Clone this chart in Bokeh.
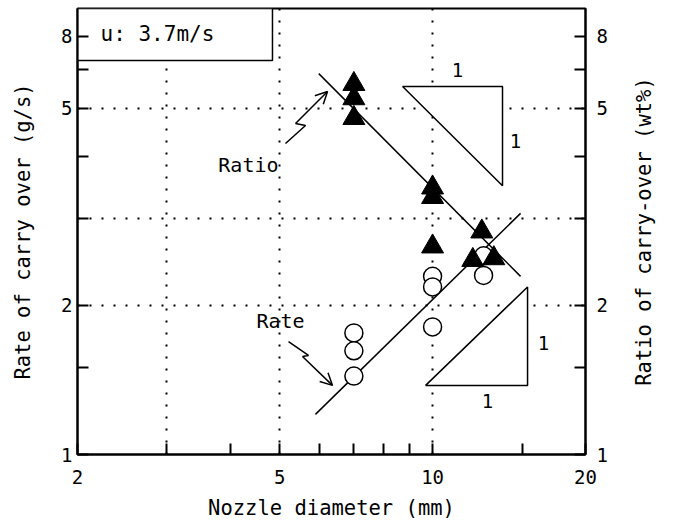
from bokeh.plotting import figure
from bokeh.layouts import row
from bokeh.models import LogAxis, FixedTicker, Arrow, OpenHead, Range1d
from bokeh.embed import file_html
from bokeh.resources import INLINE
from bokeh.core.properties import value

# ---------------- data ----------------
ratio_d = [7.0, 7.0, 7.0, 10.0, 10.0, 10.0, 12.0, 12.5, 13.2]
ratio_v = [5.60, 5.24, 4.78, 3.46, 3.31, 2.63, 2.47, 2.82, 2.49]
rate_d = [7.0, 7.0, 7.0, 10.0, 10.0, 10.0, 12.6, 12.6]
rate_v = [1.76, 1.62, 1.44, 2.29, 2.18, 1.81, 2.52, 2.30]
ratio_fit_d = [5.97, 14.9]
ratio_fit_v = [5.88, 2.29]
rate_fit_d = [5.88, 14.9]
rate_fit_v = [1.205, 3.07]

x_ticks = [2, 3, 4, 5, 6, 7, 8, 9, 10, 15, 20]
x_tick_labels = {2: "2", 5: "5", 10: "10", 20: "20"}
y_ticks = [1, 1.5, 2, 3, 4, 5, 6, 7]
y_tick_labels = {1: "1", 2: "2", 5: "5", 7: "8"}
x_grid = [3, 5, 10]
y_grid = [2, 3, 5]

# slope triangles (data coordinates)
slope_up_x = [8.73, 13.73, 13.73]
slope_up_y = [5.54, 5.54, 3.49]
slope_dn_x = [9.69, 15.38, 15.38]
slope_dn_y = [1.379, 1.379, 2.18]
slope_lbl_x = [11.2, 14.56, 12.83, 16.53]
slope_lbl_y = [5.97, 4.29, 1.285, 1.676]

# zig-zag pointers
ratio_arrow_x = [5.134, 5.622, 5.373, 6.212]
ratio_arrow_y = [4.249, 4.620, 4.664, 5.412]
rate_arrow_x = [5.205, 5.698, 5.546, 6.353]
rate_arrow_y = [1.691, 1.585, 1.577, 1.379]

X_RANGE = (2, 20)
Y_RANGE = (1, 7.96)
FONT = "DejaVu Sans Mono"

p = figure(x_axis_type="log", y_axis_type="log", x_range=X_RANGE, y_range=Y_RANGE,
           frame_width=508, frame_height=446, min_border_left=77, min_border_right=30,
           min_border_top=8, min_border_bottom=56, output_backend="svg",
           toolbar_location=None)
p.outline_line_color = "black"
p.outline_line_width = 2
p.background_fill_color = "white"

def style_axis(ax, ticks, labels, size="19px"):
    ax.ticker = FixedTicker(ticks=ticks, minor_ticks=[])
    ax.major_label_overrides = {t: labels.get(t, "") for t in ticks}
    ax.major_tick_in = 11
    ax.major_tick_out = 0
    ax.minor_tick_line_color = None
    ax.major_tick_line_width = 2
    ax.axis_line_width = 2
    ax.major_label_text_font = FONT
    ax.major_label_text_font_size = size
    ax.major_label_text_color = "black"
    ax.axis_label_text_font = FONT
    ax.axis_label_text_font_size = "20.5px"
    ax.axis_label_text_font_style = "normal"
    ax.axis_label_text_color = "black"

xa = p.xaxis[0]
style_axis(xa, x_ticks, x_tick_labels)
xa.axis_label = "Nozzle diameter (mm)"
xa.major_label_standoff = 15
xa.axis_label_standoff = 9

ya = p.yaxis[0]
style_axis(ya, y_ticks, y_tick_labels)
ya.axis_label = "Rate of carry over (g/s)"
ya.major_label_standoff = 5
ya.axis_label_standoff = 23

ra = LogAxis()
style_axis(ra, y_ticks, y_tick_labels)
ra.major_label_standoff = 11
p.add_layout(ra, "right")

p.xgrid.ticker = FixedTicker(ticks=x_grid, minor_ticks=[])
p.ygrid.ticker = FixedTicker(ticks=y_grid, minor_ticks=[])
for g in (p.xgrid[0], p.ygrid[0]):
    g.grid_line_color = "black"
    g.grid_line_dash = "2 10"
    g.grid_line_width = 2

# velocity box
p.quad(left=[X_RANGE[0]], right=[4.84], bottom=[6.25], top=[Y_RANGE[1]],
       fill_color="white", line_color="black", line_width=1.5)
p.text(x=[2.22], y=[7.06], text=["u: 3.7m/s"], text_font=value(FONT),
       text_font_size="21px", text_baseline="middle", text_align="left", text_color="black")

# fitted lines
p.line(ratio_fit_d, ratio_fit_v, line_color="black", line_width=1.5)
p.line(rate_fit_d, rate_fit_v, line_color="black", line_width=1.5)

# slope triangles
p.patch(slope_up_x, slope_up_y, fill_color="white", line_color="black", line_width=1.5)
p.patch(slope_dn_x, slope_dn_y, fill_color="white", line_color="black", line_width=1.5)
p.text(x=slope_lbl_x, y=slope_lbl_y, text=["1"] * 4, text_font=value(FONT),
       text_font_size="19px", text_align="center", text_baseline="middle", text_color="black")

# data points
p.scatter(rate_d, rate_v, marker="circle", size=18, fill_color="white",
          line_color="black", line_width=1.5)
p.scatter(ratio_d, ratio_v, marker="triangle", size=22, fill_color="black",
          line_color="black")

# labels and pointers
p.text(x=[4.34], y=[3.85], text=["Ratio"], text_font=value(FONT), text_font_size="20px",
       text_align="center", text_baseline="middle", text_color="black")
p.text(x=[5.02], y=[1.857], text=["Rate"], text_font=value(FONT), text_font_size="20px",
       text_align="center", text_baseline="middle", text_color="black")
for ax_, ay_ in ((ratio_arrow_x, ratio_arrow_y), (rate_arrow_x, rate_arrow_y)):
    p.line(ax_[:3], ay_[:3], line_color="black", line_width=1.5)
    p.add_layout(Arrow(end=OpenHead(size=12, line_width=1.5, line_color="black"),
                       x_start=ax_[2], y_start=ay_[2], x_end=ax_[3], y_end=ay_[3],
                       line_width=1.5, line_color="black"))

# narrow companion panel carrying the right-hand axis title (reads bottom-to-top)
p2 = figure(x_range=Range1d(0, 1), y_range=Range1d(0, 1), frame_width=1, frame_height=446,
            min_border_left=40, min_border_right=0, min_border_top=8, min_border_bottom=56,
            x_axis_location=None, output_backend="svg", toolbar_location=None)
p2.outline_line_color = None
p2.xgrid.visible = False
p2.ygrid.visible = False
la = p2.yaxis[0]
la.ticker = FixedTicker(ticks=[], minor_ticks=[])
la.axis_line_color = None
la.major_tick_line_color = None
la.minor_tick_line_color = None
la.major_label_text_font_size = "0px"
la.axis_label = "Ratio of carry-over (wt%)"
la.axis_label_text_font = FONT
la.axis_label_text_font_size = "20.5px"
la.axis_label_text_font_style = "normal"
la.axis_label_text_color = "black"
la.axis_label_standoff = 0

layout = row(p, p2, spacing=0)
open("out.html", "w").write(file_html(layout, INLINE))
